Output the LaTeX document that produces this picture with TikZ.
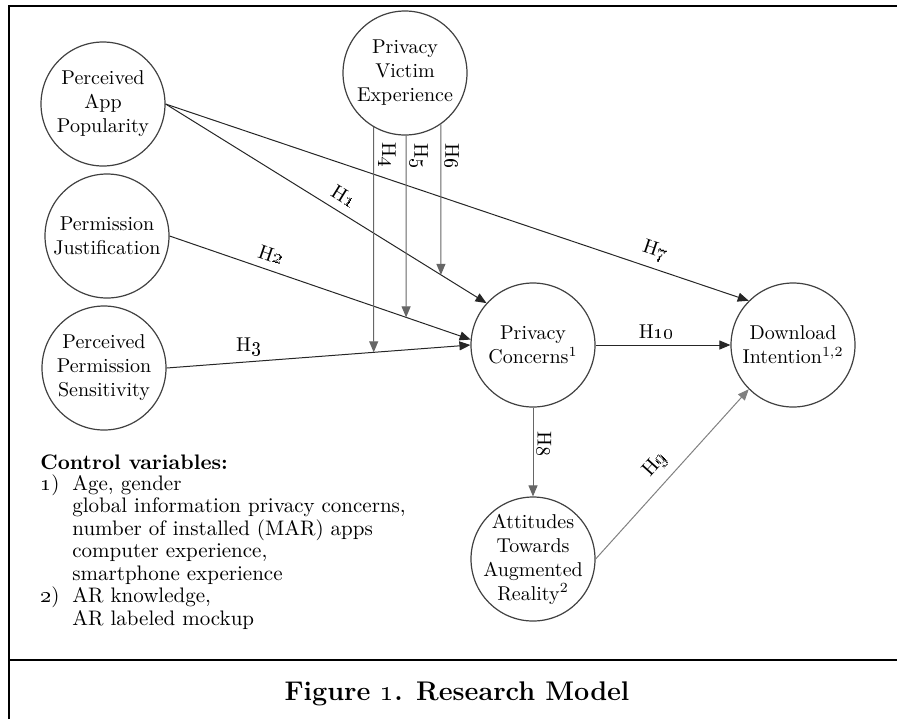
\documentclass[tikz,border=0pt]{standalone}
\usetikzlibrary{arrows.meta}
\tikzset{
  construct/.style = {
    circle, draw=black!75, line width=0.6pt,
    minimum size=62pt, inner sep=0pt, align=center,
    font=\fontsize{10}{12}\selectfont
  },
  link/.style = {
    draw=black!85, line width=0.5pt,
    -{Triangle[length=5.5pt,width=4.5pt]}
  },
  moderator/.style = {link, draw=black!60},
  hlabel/.style = {font=\fontsize{10}{12}\selectfont, inner sep=2pt},
  ctrltext/.style = {align=left, inner sep=0pt,
    font=\fontsize{10.5}{11.25}\selectfont}
}
\newcommand{\hname}[1]{H\oldstylenums{#1}}

\begin{document}
\begin{tikzpicture}[x=0.5pt,y=-0.5pt]
  \useasboundingbox (0,0) rectangle (897,719);
  % frame
  \draw[line width=1.2pt] (9,719) -- (9,6) -- (897,6);
  \draw[line width=1.2pt] (9,660) -- (897,660);
  %
  \node[construct] (pap) at (103,104) {Perceived\\App\\Popularity};
  \node[construct] (pj) at (107,236) {Permission\\Justification};
  \node[construct] (pps) at (104,368) {Perceived\\Permission\\Sensitivity};
  \node[construct] (pve) at (405,73) {Privacy\\Victim\\Experience};
  \node[construct] (pc) at (533,345) {Privacy\\Concerns\textsuperscript{1}};
  \node[construct] (di) at (793,345) {Download\\Intention\textsuperscript{1,2}};
  \node[construct, inner sep=-3pt] (atar) at (533,559)
    {Attitudes\\Towards\\Augmented\\Reality\textsuperscript{2}};
  %
  \draw[link] (pap.east) -- (pc.138)
    node[hlabel, pos=0.53, sloped, above=2pt] (l1) {\hname{1}};
  \draw[link] (pj.east) -- (pc.175)
    node[hlabel, pos=0.32, sloped, above=2pt] (l2) {\hname{2}};
  \draw[link] (pps.east) -- (pc.180)
    node[hlabel, pos=0.27, above=1pt] (l3) {\hname{3}};
  \draw[link] (pap.east) -- (di.135)
    node[hlabel, pos=0.83, sloped, above=2pt] (l7) {\hname{7}};
  \draw[link] (pc.east) -- (di.west)
    node[hlabel, pos=0.45, above=1pt] (l10) {\hname{10}};
  \draw[moderator] (pc.south) -- (atar.north)
    node[hlabel, pos=0.41, rotate=-90, anchor=south] (l8) {\hname{8}};
  \draw[link, draw=black!50] (atar.east) -- (di.225)
    node[hlabel, pos=0.48, sloped, above=3pt] (l9) {\hname{9}};
  % moderating effects
  \foreach \ang/\src/\tip/\num/\p in {-120/pps/180/4/0.125, -89/pj/175/5/0.11, -55/pap/138/6/0.21} {
    \coordinate (m\num) at (intersection cs:
      first line={(pve.\ang)--(pve.\ang |- atar.north)},
      second line={(\src.east)--(pc.\tip)});
    \draw[moderator] (pve.\ang) -- (m\num)
      node[hlabel, pos=\p, rotate=-90, anchor=south] (l\num) {\hname{\num}};
  }
  % controls
  \node[ctrltext, anchor=north west] (ctrl) at (40,454) {%
    \textbf{Control variables:}\\[1.5pt]
    \begin{tabular}{@{}p{16pt}@{}l@{}}
      \oldstylenums{1}) & Age, gender\\
        & global information privacy concerns,\\
        & number of installed (MAR) apps\\
        & computer experience,\\
        & smartphone experience\\
      \oldstylenums{2}) & AR knowledge,\\
        & AR labeled mockup
    \end{tabular}};
  \node[font=\bfseries\fontsize{13.5}{16}\selectfont, anchor=base] (caption)
    at (457,700) {Figure \oldstylenums{1}. Research Model};
\end{tikzpicture}
\end{document}
